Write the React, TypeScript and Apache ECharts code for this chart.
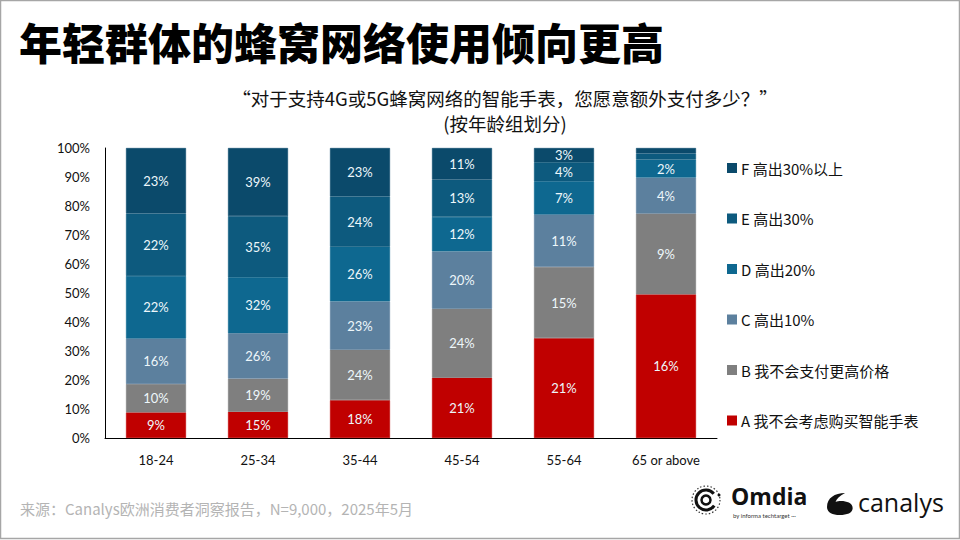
import React, { useEffect, useRef } from "react";
import * as echarts from "echarts";

const categories = ["18-24", "25-34", "35-44", "45-54", "55-64", "65 or above"];
const seriesNames = [
  "A 我不会考虑购买智能手表",
  "B 我不会支付更高价格",
  "C 高出10%",
  "D 高出20%",
  "E 高出30%",
  "F 高出30%以上",
];
const valuesA = [9, 15, 18, 21, 21, 16];
const valuesB = [10, 19, 24, 24, 15, 9];
const valuesC = [16, 26, 23, 20, 11, 4];
const valuesD = [22, 32, 26, 12, 7, 2];
const valuesE = [22, 35, 24, 13, 4, 0.7];
const valuesF = [23, 39, 23, 11, 3, 0.6];
const yTicks = ["0%", "10%", "20%", "30%", "40%", "50%", "60%", "70%", "80%", "90%", "100%"];
const colors = ["#C00000", "#7F7F7F", "#5C809E", "#0E6890", "#0D5A7E", "#0B4A6B"];

const allValues = [valuesA, valuesB, valuesC, valuesD, valuesE, valuesF];

const FONT = "Lato, 'Noto Sans CJK SC', sans-serif";
const CJK = "'Noto Sans CJK SC', Lato, sans-serif";

const canalysPath =
  "M0,14 C0,5 8,0 19,0 C13,3 10,6 9,9 C14,7 27,8 27,15 C27,20 21,22 13.5,22 C5,22 0,19 0,14 Z";

let shapesRegistered = false;
function registerShapes() {
  if (shapesRegistered) return;
  shapesRegistered = true;
  echarts.graphic.registerShape(
    "canalysLogo",
    echarts.graphic.extendPath(canalysPath, {}) as any
  );
}

export default function App() {
  const ref = useRef<HTMLDivElement>(null);
  useEffect(() => {
    if (!ref.current) return;
    registerShapes();
    const chart = echarts.init(ref.current, undefined, { renderer: "svg" });
    const totals = categories.map((_, i) =>
      allValues.reduce((s, arr) => s + arr[i], 0)
    );
    const series = allValues.map((arr, si) => ({
      name: seriesNames[si],
      type: "bar",
      stack: "total",
      barWidth: 60,
      itemStyle: { color: colors[si], borderColor: colors[si], borderWidth: 0.6 },
      data: arr.map((v, i) => (v / totals[i]) * 100),
      label: {
        show: true,
        position: "inside",
        color: "#EEF7FB",
        fontSize: 13,
        fontFamily: FONT,
        formatter: (p: any) => {
          const raw = arr[p.dataIndex];
          return raw >= 1 ? `${raw}%` : "";
        },
      },
    }));
    chart.setOption({
      animation: false,
      backgroundColor: "#ffffff",
      grid: { left: 105, right: 243, top: 148, bottom: 102, containLabel: false },
      xAxis: {
        type: "category",
        data: categories,
        axisLine: { show: true, lineStyle: { color: "#000", width: 1 } },
        axisTick: { show: false },
        axisLabel: { color: "#111", fontSize: 13, margin: 15, fontFamily: FONT },
      },
      yAxis: {
        type: "value",
        min: 0,
        max: 100,
        interval: 10,
        axisLine: { show: true, lineStyle: { color: "#000", width: 1 } },
        axisTick: { show: false },
        splitLine: { show: false },
        axisLabel: {
          color: "#111",
          fontSize: 13,
          margin: 15,
          fontFamily: FONT,
          formatter: (v: number) => yTicks[Math.round(v / 10)],
        },
      },
      legend: {
        orient: "vertical",
        left: 722,
        top: 155,
        itemWidth: 8,
        itemHeight: 8,
        itemGap: 34.5,
        icon: "rect",
        data: [...seriesNames].reverse(),
        textStyle: { color: "#111", fontSize: 15, fontFamily: CJK, lineHeight: 16 },
      },
      series,
      graphic: [
        {
          type: "rect",
          shape: { x: 0.5, y: 0.5, width: 959, height: 538 },
          style: { fill: "none", stroke: "#A6A6A6", lineWidth: 1.5 },
          silent: true,
        },
        {
          type: "text",
          left: 19,
          top: 19,
          style: {
            text: "年轻群体的蜂窝网络使用倾向更高",
            fontSize: 43,
            fontWeight: 900,
            fontFamily: CJK,
            fill: "#000",
          },
        },
        {
          type: "text",
          x: 505,
          y: 98,
          style: {
            text: "“对于支持4G或5G蜂窝网络的智能手表，您愿意额外支付多少？”",
            fontSize: 18.5,
            fontFamily: CJK,
            fill: "#111",
            align: "center",
            verticalAlign: "middle",
          },
        },
        {
          type: "text",
          x: 505,
          y: 123,
          style: {
            text: "(按年龄组划分)",
            fontSize: 18.5,
            fontFamily: CJK,
            fill: "#111",
            align: "center",
            verticalAlign: "middle",
          },
        },
        {
          type: "text",
          x: 20,
          y: 508,
          style: {
            text: "来源：Canalys欧洲消费者洞察报告，N=9,000，2025年5月",
            fontSize: 15,
            fontFamily: CJK,
            fill: "#B4B4B4",
            verticalAlign: "middle",
          },
        },
        {
          type: "circle",
          shape: { cx: 706, cy: 500, r: 14 },
          style: { fill: "none", stroke: "#333", lineWidth: 1.2, lineDash: [1.5, 2] },
        },
        {
          type: "arc",
          shape: { cx: 706, cy: 500, r: 10, startAngle: 0.6, endAngle: 5.6 },
          style: { fill: "none", stroke: "#111", lineWidth: 3 },
        },
        {
          type: "circle",
          shape: { cx: 706, cy: 500, r: 4.5 },
          style: { fill: "none", stroke: "#111", lineWidth: 2.5 },
        },
        {
          type: "circle",
          shape: { cx: 719, cy: 495, r: 1.5 },
          style: { fill: "#111" },
        },
        {
          type: "text",
          x: 731,
          y: 496,
          style: {
            text: "Omdia",
            fontSize: 23,
            fontWeight: "bold",
            fontFamily: "'Open Sans', Lato, sans-serif",
            fill: "#111",
            verticalAlign: "middle",
          },
        },
        {
          type: "text",
          x: 733,
          y: 515,
          style: {
            text: "by informa techtarget ···",
            fontSize: 6,
            fontFamily: "Lato, sans-serif",
            fill: "#333",
            verticalAlign: "middle",
          },
        },
        {
          type: "canalysLogo",
          x: 827,
          y: 493,
          scaleX: 0.95,
          scaleY: 1,
          style: { fill: "#111" },
        },
        {
          type: "text",
          x: 858,
          y: 502,
          style: {
            text: "canalys",
            fontSize: 25,
            fontFamily: "'Open Sans', Lato, sans-serif",
            fill: "#111",
            verticalAlign: "middle",
          },
        },
      ],
    });
    return () => chart.dispose();
  }, []);
  return (
    <div
      ref={ref}
      style={{ position: "absolute", left: 0, top: 0, width: 960, height: 540 }}
    />
  );
}
